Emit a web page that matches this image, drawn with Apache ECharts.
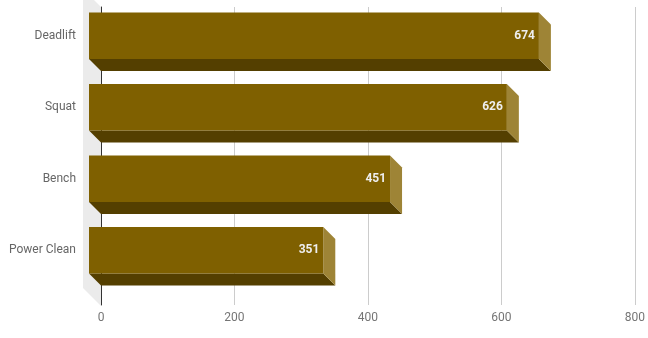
<!DOCTYPE html>
<html>
<head>
<meta charset="utf-8">
<script src="https://cdn.jsdelivr.net/npm/echarts@6/dist/echarts.min.js"></script>
<style>html,body{margin:0;padding:0;background:#fff}#c{width:648px;height:338px}</style>
</head>
<body>
<div id="c"></div>
<script>
const categories = ['Deadlift', 'Squat', 'Bench', 'Power Clean'];
const values = [674, 626, 451, 351];
const xTicks = [0, 200, 400, 600, 800];

const FRONT = '#7f6000', BOTTOM = '#543f00', SIDE = '#9e8436';
const DEPTH = 12;

const chart = echarts.init(document.getElementById('c'), null, {renderer: 'canvas'});

function renderBar(params, api) {
  const v = api.value(0);
  const c = api.value(1);
  const start = api.coord([0, c]);
  const end = api.coord([v, c]);
  const h = api.size([0, 1])[1] * 0.65;
  const x0 = start[0], x1 = end[0];
  const y0 = end[1] - h / 2, y1 = end[1] + h / 2;
  const d = DEPTH;
  return {
    type: 'group',
    children: [
      {type: 'polygon', shape: {points: [[x0, y1], [x1, y1], [x1 + d, y1 + d], [x0 + d, y1 + d]]}, style: {fill: BOTTOM}},
      {type: 'polygon', shape: {points: [[x1, y0], [x1 + d, y0 + d], [x1 + d, y1 + d], [x1, y1]]}, style: {fill: SIDE}},
      {type: 'rect', shape: {x: x0, y: y0, width: x1 - x0, height: h}, style: {fill: FRONT}},
      {type: 'text', style: {text: String(v), x: x1 - 4, y: (y0 + y1) / 2, align: 'right', verticalAlign: 'middle', fill: '#eeeeee', font: 'bold 12px Roboto'}}
    ]
  };
}

function renderWall(params, api) {
  const cs = params.coordSys;
  const w = 18;
  return {
    type: 'polygon',
    shape: {points: [[cs.x - w, cs.y - w], [cs.x, cs.y], [cs.x, cs.y + cs.height + 1], [cs.x - w, cs.y + cs.height + 1 - w]]},
    style: {fill: '#ebebeb'}
  };
}

chart.setOption({
  animation: false,
  grid: [
    {left: 89, right: 25, top: -3, bottom: 52},
    {left: 101, right: 13, top: 7, bottom: 33}
  ],
  xAxis: [
    {gridIndex: 0, type: 'value', min: xTicks[0], max: xTicks[xTicks.length - 1], interval: 200, show: false},
    {gridIndex: 1, type: 'value', min: xTicks[0], max: xTicks[xTicks.length - 1], interval: 200,
      axisLine: {show: false}, axisTick: {show: false},
      axisLabel: {margin: 7, color: '#757575', fontFamily: 'Roboto', fontSize: 12},
      splitLine: {show: true, lineStyle: {color: '#cccccc', width: 1}}}
  ],
  yAxis: [
    {gridIndex: 0, type: 'category', data: categories, inverse: true,
      axisLine: {show: false}, axisTick: {show: false},
      axisLabel: {margin: 13, color: '#666666', fontFamily: 'Roboto', fontSize: 12, padding: [0, 0, 2, 0]},
      splitLine: {show: false}},
    {gridIndex: 1, type: 'category', data: categories, inverse: true,
      axisLine: {show: true, lineStyle: {color: '#333333', width: 1}}, axisTick: {show: false},
      axisLabel: {show: false}, splitLine: {show: false}}
  ],
  series: [
    {type: 'custom', xAxisIndex: 1, yAxisIndex: 1, renderItem: renderWall, data: [[0, 0]], z: 0, silent: true},
    {type: 'custom', xAxisIndex: 0, yAxisIndex: 0, renderItem: renderBar,
      encode: {x: 0, y: 1},
      data: values.map((v, i) => [v, i]), z: 3}
  ]
});
</script>
</body>
</html>
